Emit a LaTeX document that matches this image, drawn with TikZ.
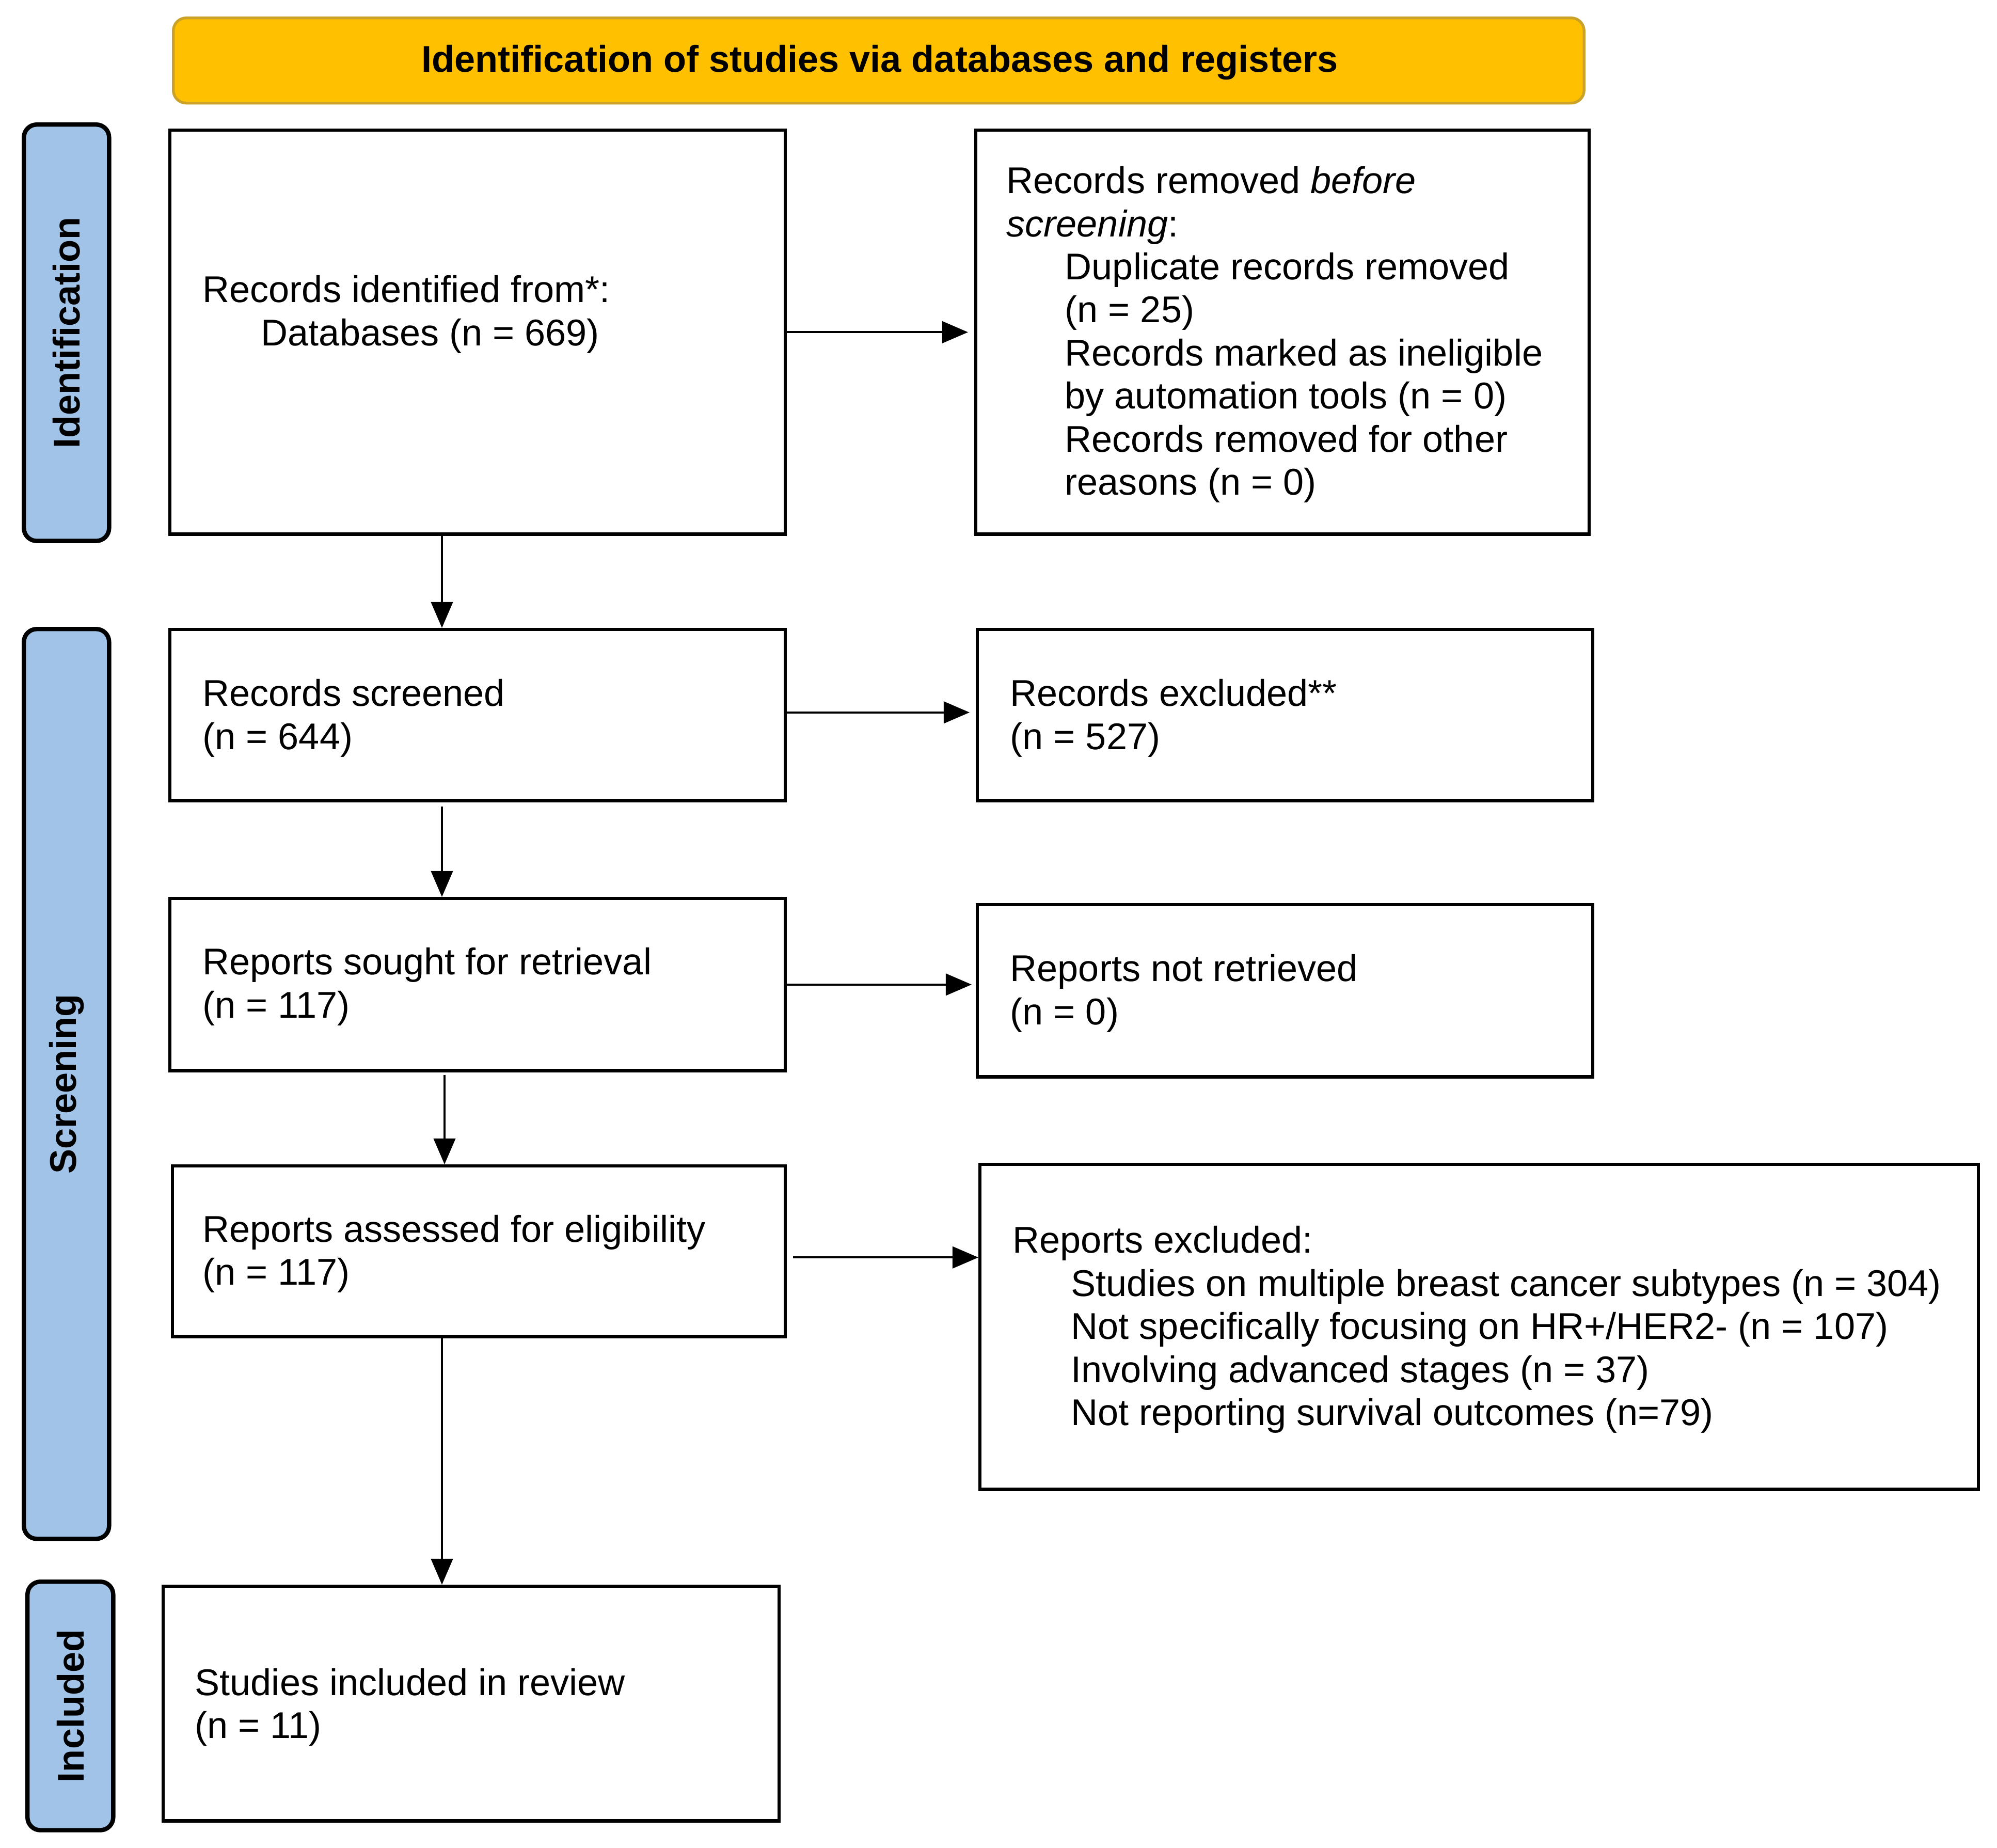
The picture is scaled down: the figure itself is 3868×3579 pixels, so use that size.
\documentclass[tikz,border=0pt]{standalone}
\usepackage{fontspec}
\setmainfont{Liberation Sans}
\usetikzlibrary{arrows.meta,calc}
\definecolor{bannerfill}{HTML}{FFC000}
\definecolor{bannerdraw}{HTML}{C9A227}
\definecolor{sidefill}{HTML}{A0C3E7}
\tikzset{
  box/.style={draw=black, line width=1.8pt, fill=white, anchor=north west, inner sep=0pt},
  txt/.style={anchor=west, align=left, inner sep=0pt, font=\fontsize{20.5}{23.7}\selectfont},
  side/.style={draw=black, line width=2.4pt, fill=sidefill, rounded corners=0.25cm, anchor=north west, inner sep=0pt},
  sidetxt/.style={rotate=90, font=\fontsize{20.5}{24}\selectfont\bfseries},
  flow/.style={line width=1.1pt, -{Triangle[length=0.5cm,width=0.42cm]}},
}
\newcommand\ind{\hspace*{1.13cm}}
\begin{document}
\begin{tikzpicture}[x=0.01cm,y=-0.01cm]
\useasboundingbox (0,0) rectangle (3868,3579);
% banner
\node[draw=bannerdraw, line width=1.5pt, fill=bannerfill, rounded corners=0.25cm, anchor=north west,
      minimum width=27.31cm, minimum height=1.65cm, inner sep=0pt] (banner) at (333,32) {};
\node[font=\fontsize{20.5}{24}\selectfont\bfseries, inner sep=0pt] (bannert) at ($(banner.center)+(2,4)$) {Identification of studies via databases and registers};
% side labels
\node[side, minimum width=1.65cm, minimum height=8.06cm] (sid) at (42,237) {};
\node[sidetxt] (sidt) at (sid.center) {Identification};
\node[side, minimum width=1.65cm, minimum height=17.61cm] (ssc) at (42,1214) {};
\node[sidetxt] (ssct) at (ssc.center) {Screening};
\node[side, minimum width=1.66cm, minimum height=4.81cm] (sin) at (49,3059) {};
\node[sidetxt] (sint) at (sin.center) {Included};
% boxes
\node[box, minimum width=11.91cm, minimum height=7.82cm] (a) at (326,249) {};
\node[box, minimum width=11.87cm, minimum height=7.82cm] (b) at (1887,249) {};
\node[box, minimum width=11.91cm, minimum height=3.31cm] (c) at (326,1216) {};
\node[box, minimum width=11.91cm, minimum height=3.31cm] (d) at (1890,1216) {};
\node[box, minimum width=11.91cm, minimum height=3.33cm] (e) at (326,1737) {};
\node[box, minimum width=11.91cm, minimum height=3.33cm] (f) at (1890,1749) {};
\node[box, minimum width=11.86cm, minimum height=3.30cm] (g) at (331,2255) {};
\node[box, minimum width=19.33cm, minimum height=6.29cm] (h) at (1895,2252) {};
\node[box, minimum width=11.92cm, minimum height=4.54cm] (i) at (313,3069) {};
% texts
\node[txt] (at) at (392,609) {Records identified from*:\\\ind Databases (n = 669)};
\node[txt] (bt) at (1949,648) {Records removed \textit{before}\\\textit{screening}:\\
  \ind Duplicate records removed\\\ind (n = 25)\\
  \ind Records marked as ineligible\\\ind by automation tools (n = 0)\\
  \ind Records removed for other\\\ind reasons (n = 0)};
\node[txt] (ct) at (392,1391) {Records screened\\(n = 644)};
\node[txt] (dt) at (1956,1391) {Records excluded**\\(n = 527)};
\node[txt] (et) at (392,1911) {Reports sought for retrieval\\(n = 117)};
\node[txt] (ft) at (1956,1924) {Reports not retrieved\\(n = 0)};
\node[txt] (gt) at (392,2428) {Reports assessed for eligibility\\(n = 117)};
\node[txt] (ht) at (1961,2575) {Reports excluded:\\
  \ind Studies on multiple breast cancer subtypes (n = 304)\\
  \ind Not specifically focusing on HR+/HER2- (n = 107)\\
  \ind Involving advanced stages (n = 37)\\
  \ind Not reporting survival outcomes (n=79)};
\node[txt] (it) at (377,3306) {Studies included in review\\(n = 11)};
% connectors
\coordinate (vx) at (856,0);
\draw[flow] (a.east) -- ($(a.east -| b.west)+(-12,0)$);
\draw[flow] ($(c.east)+(0,-5)$) -- ($(c.east -| d.west)+(-12,-5)$);
\draw[flow] (e.east) -- ($(e.east -| f.west)+(-8,0)$);
\draw[flow] ($(g.east)+(12,12)$) -- ($(g.east -| h.west)+(0,12)$);
\draw[flow] (a.south -| vx) -- (c.north -| vx);
\draw[flow] ($(c.south -| vx)+(0,8)$) -- (e.north -| vx);
\draw[flow] ($(e.south -| vx)+(5,5)$) -- ($(g.north -| vx)+(5,0)$);
\draw[flow] (g.south -| vx) -- (i.north -| vx);
\end{tikzpicture}
\end{document}
